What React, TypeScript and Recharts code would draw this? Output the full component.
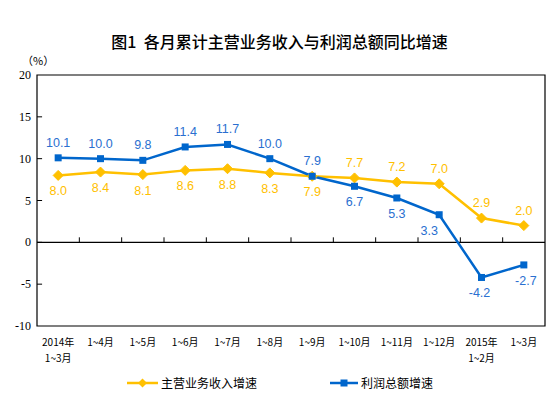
import React from "react";
import {
  LineChart,
  Line,
  XAxis,
  YAxis,
  ReferenceLine,
  ReferenceArea,
  LabelList,
} from "recharts";

const categories: string[][] = [
  ["2014年", "1~3月"],
  ["1~4月"],
  ["1~5月"],
  ["1~6月"],
  ["1~7月"],
  ["1~8月"],
  ["1~9月"],
  ["1~10月"],
  ["1~11月"],
  ["1~12月"],
  ["2015年", "1~2月"],
  ["1~3月"],
];
const revenueGrowth = [8.0, 8.4, 8.1, 8.6, 8.8, 8.3, 7.9, 7.7, 7.2, 7.0, 2.9, 2.0];
const profitGrowth = [10.1, 10.0, 9.8, 11.4, 11.7, 10.0, 7.9, 6.7, 5.3, 3.3, -4.2, -2.7];
const yTicks = [-10, -5, 0, 5, 10, 15, 20];

// label placement config (true = above point), plus small horizontal nudges
const revenueAbove = [false, false, false, false, false, false, false, true, true, true, true, true];
const profitAbove = [true, true, true, true, true, true, true, false, false, false, false, false];
const profitNudge = [0, 0, 0, 0, 0, 0, 0, 0, 0, -10, -2, 2];
const revenueNudge = [0, 0, 0, 0, 0, 0, 0, 0, 0, 0, 0, 0];

const YELLOW = "#FFC000";
const BLUE = "#0066CC";
const BLUE_TEXT = "#2A6FD0";

const data = categories.map((c, i) => ({
  idx: i,
  revenue: revenueGrowth[i],
  profit: profitGrowth[i],
}));

const boundaries = categories.slice(1).map((_, i) => i + 0.5);

const XTick = (props: any) => {
  const { x, y, payload } = props;
  const lines = categories[payload.value] || [];
  return (
    <g>
      {lines.map((l, k) => (
        <text
          key={k}
          x={x}
          y={y + 12 + k * 16}
          textAnchor="middle"
          fontSize={10}
          fontFamily="'Noto Sans CJK SC', sans-serif"
          fill="#000"
        >
          {l}
        </text>
      ))}
    </g>
  );
};

const YTick = (props: any) => {
  const { y, payload } = props;
  return (
    <text
      x={31}
      y={y + 4}
      textAnchor="end"
      fontSize={12}
      fontFamily="'Liberation Serif', serif"
      fill="#000"
    >
      {payload.value}
    </text>
  );
};

const makeLabel = (above: boolean[], nudge: number[], color: string) => (props: any) => {
  const { x, y, value, index } = props;
  const up = above[index];
  return (
    <text
      x={x + (nudge[index] || 0)}
      y={up ? y - 11 : y + 20}
      textAnchor="middle"
      fontSize={12.5}
      fontFamily="'Liberation Sans', Arial, sans-serif"
      fill={color}
    >
      {Number(value).toFixed(1)}
    </text>
  );
};

const Diamond = (props: any) => {
  const { cx, cy } = props;
  if (cx == null || cy == null) return null;
  return (
    <path
      d={`M${cx},${cy - 5} L${cx + 5},${cy} L${cx},${cy + 5} L${cx - 5},${cy} Z`}
      fill={YELLOW}
      stroke={YELLOW}
    />
  );
};

const Square = (props: any) => {
  const { cx, cy } = props;
  if (cx == null || cy == null) return null;
  return <rect x={cx - 3.5} y={cy - 3.5} width={7} height={7} fill={BLUE} />;
};

export default function App() {
  return (
    <div style={{ position: "absolute", left: 0, top: 0, width: 551, height: 397, background: "#fff" }}>
      <div
        style={{
          position: "absolute",
          left: 4,
          width: 551,
          top: 31,
          textAlign: "center",
          fontFamily: "'Noto Sans CJK SC', sans-serif",
          fontWeight: 500,
          fontSize: 16,
          lineHeight: "20px",
          color: "#000",
          whiteSpace: "pre",
        }}
      >
        图1  各月累计主营业务收入与利润总额同比增速
      </div>
      <div
        style={{
          position: "absolute",
          left: 22,
          top: 53,
          fontFamily: "'Noto Sans CJK SC', sans-serif",
          fontSize: 11,
          lineHeight: "14px",
        }}
      >
        （%）
      </div>
      <LineChart
        width={551}
        height={397}
        data={data}
        margin={{ top: 75, right: 6, left: 0, bottom: 0 }}
      >
        <XAxis
          dataKey="idx"
          type="number"
          domain={[-0.5, 11.5]}
          ticks={data.map((d) => d.idx)}
          axisLine={false}
          tickLine={false}
          tick={<XTick />}
          height={71}
          interval={0}
        />
        <YAxis
          type="number"
          domain={[-10, 20]}
          ticks={yTicks}
          width={37}
          axisLine={false}
          tickLine={false}
          tick={<YTick />}
          interval={0}
        />
        <ReferenceArea
          y1={-10}
          y2={20}
          x1={-0.5}
          x2={11.5}
          fill="none"
          fillOpacity={0}
          stroke="#000"
          strokeWidth={1.2}
        />
        {yTicks.slice(1, -1).map((t) => (
          <ReferenceLine
            key={"yt" + t}
            segment={[
              { x: -0.5, y: t },
              { x: -0.38, y: t },
            ]}
            stroke="#000"
          />
        ))}
        <ReferenceLine y={0} stroke="#000" strokeWidth={1.2} />
        {boundaries.map((b) => (
          <ReferenceLine
            key={"xt" + b}
            segment={[
              { x: b, y: 0 },
              { x: b, y: 0.6 },
            ]}
            stroke="#000"
          />
        ))}
        <Line
          dataKey="revenue"
          stroke={YELLOW}
          strokeWidth={2.5}
          dot={<Diamond />}
          activeDot={false}
          isAnimationActive={false}
        >
          <LabelList dataKey="revenue" content={makeLabel(revenueAbove, revenueNudge, YELLOW)} />
        </Line>
        <Line
          dataKey="profit"
          stroke={BLUE}
          strokeWidth={2.5}
          dot={<Square />}
          activeDot={false}
          isAnimationActive={false}
        >
          <LabelList dataKey="profit" content={makeLabel(profitAbove, profitNudge, BLUE_TEXT)} />
        </Line>
      </LineChart>
      <svg style={{ position: "absolute", left: 0, top: 370 }} width={551} height={27}>
        <line x1={127} y1={13} x2={158} y2={13} stroke={YELLOW} strokeWidth={2.5} />
        <path d="M142.5,8.5 L147,13 L142.5,17.5 L138,13 Z" fill={YELLOW} />
        <text x={161} y={18} fontSize={12} fontFamily="'Noto Sans CJK SC', sans-serif" fill="#000">
          主营业务收入增速
        </text>
        <line x1={330} y1={13} x2={358} y2={13} stroke={BLUE} strokeWidth={2.5} />
        <rect x={340.5} y={9.5} width={7} height={7} fill={BLUE} />
        <text x={361} y={18} fontSize={12} fontFamily="'Noto Sans CJK SC', sans-serif" fill="#000">
          利润总额增速
        </text>
      </svg>
    </div>
  );
}
